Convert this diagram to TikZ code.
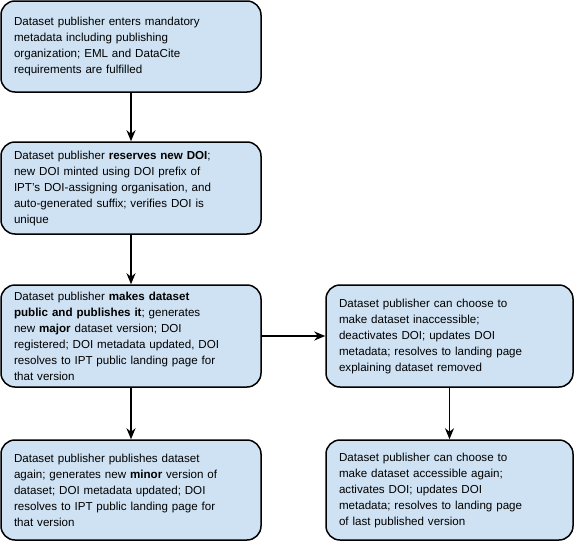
\documentclass[tikz,border=0pt]{standalone}
\usepackage{fontspec}
\setmainfont{Liberation Sans}
\usetikzlibrary{arrows.meta}
\definecolor{boxblue}{HTML}{CFE2F3}
\begin{document}
\begin{tikzpicture}[x=1pt,y=1pt,
  box/.style={draw=black, line width=1.5pt, fill=boxblue, rounded corners=14pt,
    inner sep=0pt, align=left, font=\fontsize{11.6}{16}\selectfont},
  lbox/.style={box, minimum width=260pt, text width=234pt},
  rbox/.style={box, minimum width=247pt, text width=221pt},
  arr/.style={line width=1.3pt, -{Stealth[length=11pt,width=9pt,inset=3.5pt]}}
]
\useasboundingbox (0,0) rectangle (578,-546);
\node[lbox, minimum height=91pt] (b1) at (131,-46.5) {Dataset publisher enters mandatory\\metadata including publishing\\organization; EML and DataCite\\requirements are fulfilled};
\node[lbox, minimum height=92pt] (b2) at (131,-188) {Dataset publisher \textbf{reserves new DOI};\\new DOI minted using DOI prefix of\\IPT's DOI-assigning organisation, and\\auto-generated suffix; verifies DOI is\\unique};
\node[lbox, minimum height=102pt] (b3) at (131,-336) {Dataset publisher \textbf{makes dataset}\\\textbf{public and publishes it}; generates\\new \textbf{major} dataset version; DOI\\registered; DOI metadata updated, DOI\\resolves to IPT public landing page for\\that version};
\node[lbox, minimum height=100pt] (b4) at (131,-490) {Dataset publisher publishes dataset\\again; generates new \textbf{minor} version of\\dataset; DOI metadata updated; DOI\\resolves to IPT public landing page for\\that version};
\node[rbox, minimum height=102pt] (b5) at (449.5,-336) {Dataset publisher can choose to\\make dataset inaccessible;\\deactivates DOI; updates DOI\\metadata; resolves to landing page\\explaining dataset removed};
\node[rbox, minimum height=100pt] (b6) at (449.5,-490) {Dataset publisher can choose to\\make dataset accessible again;\\activates DOI; updates DOI\\metadata; resolves to landing page\\of last published version};
\draw[arr] (b1) -- (b2);
\draw[arr] (b2) -- (b3);
\draw[arr] (b3) -- (b4);
\draw[arr] (b3) -- (b5);
\draw[arr] (b5) -- (b6);
\end{tikzpicture}
\end{document}
